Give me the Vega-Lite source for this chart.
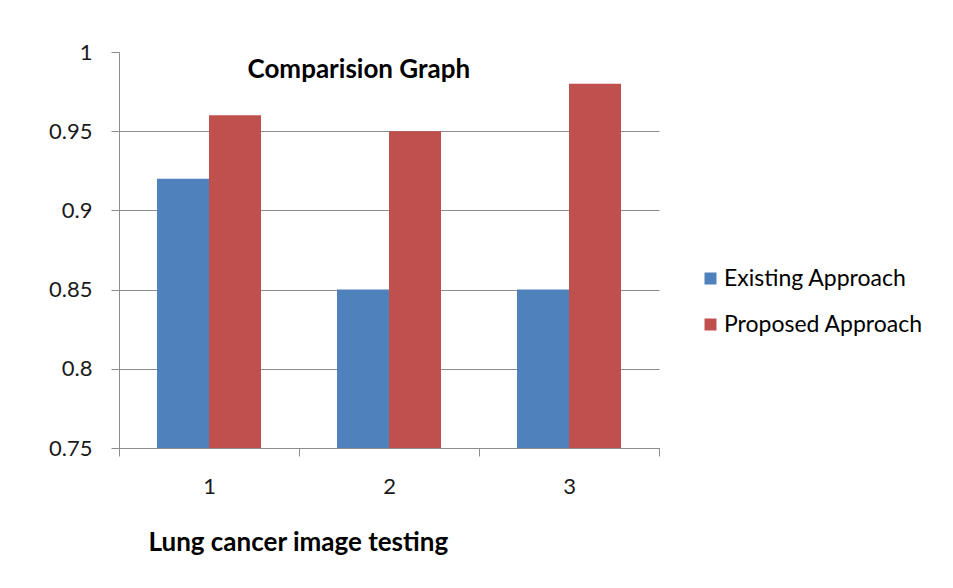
{
  "$schema": "https://vega.github.io/schema/vega-lite/v6.json",
  "width": 540,
  "height": 396,
  "autosize": {"type": "none"},
  "padding": {"left": 119, "top": 52, "right": 294, "bottom": 140},
  "background": "white",
  "config": {
    "view": {"stroke": null},
    "font": "Lato"
  },
  "data": {
    "values": [
      {"test": "1", "series": "Existing Approach", "value": 0.92},
      {"test": "1", "series": "Proposed Approach", "value": 0.96},
      {"test": "2", "series": "Existing Approach", "value": 0.85},
      {"test": "2", "series": "Proposed Approach", "value": 0.95},
      {"test": "3", "series": "Existing Approach", "value": 0.85},
      {"test": "3", "series": "Proposed Approach", "value": 0.98}
    ]
  },
  "mark": {"type": "bar", "clip": true},
  "encoding": {
    "x": {
      "field": "test",
      "type": "nominal",
      "scale": {"paddingInner": 0, "paddingOuter": 0},
      "axis": {
        "title": "Lung cancer image testing",
        "titleFontSize": 26,
        "titleFontWeight": "bold",
        "titleColor": "#000000",
        "titleAnchor": "start",
        "titleAlign": "left",
        "titleBaseline": "alphabetic",
        "titleX": 29,
        "titleY": 102,
        "labelAngle": 0,
        "labelFontSize": 22,
        "labelColor": "#1a1a1a",
        "labelPadding": 20,
        "tickBand": "extent",
        "tickSize": 8,
        "tickColor": "#8c8c8c",
        "domainColor": "#8c8c8c",
        "grid": false
      }
    },
    "xOffset": {
      "field": "series",
      "type": "nominal",
      "sort": ["Existing Approach", "Proposed Approach"],
      "scale": {"paddingInner": 0, "paddingOuter": 0.7308}
    },
    "y": {
      "field": "value",
      "type": "quantitative",
      "scale": {"domain": [0.75, 1], "zero": false, "nice": false},
      "axis": {
        "title": "Comparision Graph",
        "titleFontSize": 26,
        "titleFontWeight": "bold",
        "titleColor": "#000000",
        "titleAngle": 0,
        "titleAnchor": "start",
        "titleAlign": "left",
        "titleBaseline": "alphabetic",
        "titleX": 128,
        "titleY": 25,
        "values": [0.75, 0.8, 0.85, 0.9, 0.95, 1],
        "labelExpr": "datum.value == 1 ? '1' : format(datum.value, '.2~f')",
        "labelFontSize": 22,
        "labelColor": "#1a1a1a",
        "labelPadding": 19,
        "tickSize": 8,
        "tickColor": "#8c8c8c",
        "domainColor": "#8c8c8c",
        "grid": true,
        "gridColor": "#8c8c8c",
        "gridOpacity": {"condition": {"test": "datum.value == 1", "value": 0}, "value": 1}
      }
    },
    "color": {
      "field": "series",
      "type": "nominal",
      "sort": ["Existing Approach", "Proposed Approach"],
      "scale": {"range": ["#4F81BD", "#C0504D"]},
      "legend": {
        "title": null,
        "orient": "none",
        "legendX": 580,
        "legendY": 215,
        "symbolType": "square",
        "symbolSize": 144,
        "symbolStrokeWidth": 0,
        "labelFontSize": 23,
        "labelLimit": 400,
        "labelColor": "#000000",
        "labelOffset": 2,
        "rowPadding": 22
      }
    }
  }
}
